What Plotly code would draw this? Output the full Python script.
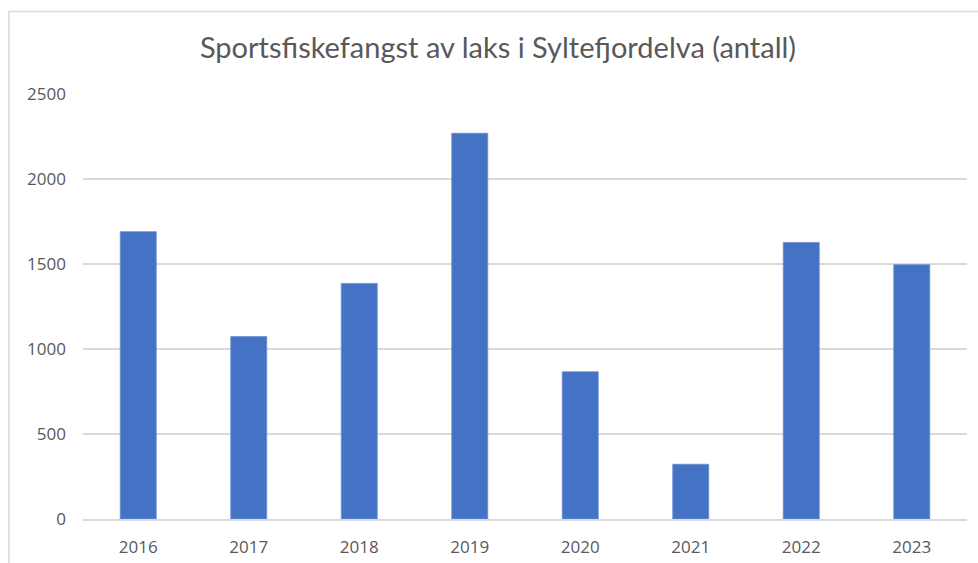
import plotly.graph_objects as go

# Sport fishing catch of salmon in Syltefjordelva, number of fish per year
years = ["2016", "2017", "2018", "2019", "2020", "2021", "2022", "2023"]
catch = [1690, 1073, 1386, 2269, 866, 322, 1627, 1496]
y_ticks = [0, 500, 1000, 1500, 2000, 2500]

W, H = 978, 563
L, R, T, B = 83, 11, 93.5, 44.3
plot_w = W - L - R
plot_h = H - T - B

text_grey = "#595959"
grid_grey = "#d9d9d9"


def px_to_paper_x(px):
    return (px - L) / plot_w


def px_to_paper_y(py):
    return (H - B - py) / plot_h


fig = go.Figure(
    go.Bar(
        x=years,
        y=catch,
        marker=dict(color="#4472c4", line=dict(color="#6a8fd3", width=0.8)),
        hoverinfo="x+y",
    )
)

fig.update_layout(
    width=W,
    height=H,
    autosize=False,
    margin=dict(l=L, r=R, t=T, b=B, pad=0, autoexpand=False),
    paper_bgcolor="white",
    plot_bgcolor="white",
    bargap=0.674,
    showlegend=False,
    title=dict(
        text="Sportsfiskefangst av laks i Syltefjordelva (antall)",
        x=498 / W,
        xref="container",
        xanchor="center",
        y=1 - 48 / H,
        yref="container",
        yanchor="middle",
        font=dict(family="Lato", size=29, color=text_grey),
    ),
    font=dict(family="Open Sans", size=17, color=text_grey),
    # chart-area frame (left and top edges)
    shapes=[
        dict(
            type="path",
            xref="paper",
            yref="paper",
            path=(
                f"M {px_to_paper_x(9)} {px_to_paper_y(600)} "
                f"L {px_to_paper_x(9)} {px_to_paper_y(11)} "
                f"L {px_to_paper_x(1000)} {px_to_paper_y(11)}"
            ),
            line=dict(color=grid_grey, width=1.5),
            layer="below",
        )
    ],
)

fig.update_xaxes(
    type="category",
    automargin=False,
    showgrid=False,
    showline=True,
    linecolor=grid_grey,
    linewidth=1.5,
    ticks="",
    ticklabelstandoff=12,
    tickfont=dict(family="Open Sans", size=17, color=text_grey),
)

fig.update_yaxes(
    range=[0, 2500],
    automargin=False,
    tickvals=y_ticks,
    showgrid=True,
    gridcolor=grid_grey,
    gridwidth=1.5,
    zeroline=False,
    showline=False,
    ticks="",
    ticklabelstandoff=16,
    tickfont=dict(family="Open Sans", size=17, color=text_grey),
)

fig.write_html("out.html")
